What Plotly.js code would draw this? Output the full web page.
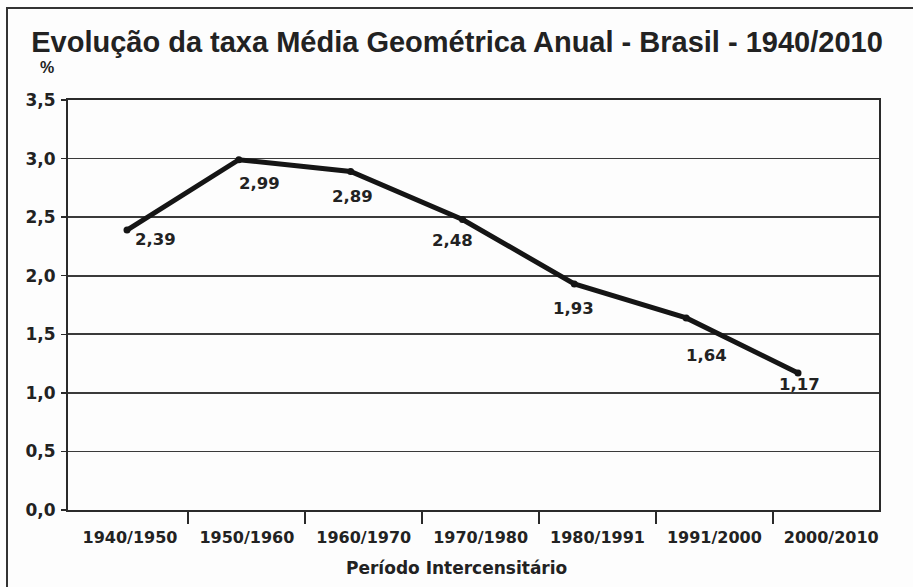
<!DOCTYPE html>
<html>
<head>
<meta charset="utf-8">
<script src="https://cdn.plot.ly/plotly-3.0.1.min.js"></script>
<style>
  html, body { margin: 0; padding: 0; background: #fdfdfd; }
  #wrap { position: relative; width: 913px; height: 587px; }
  #chart { width: 913px; height: 587px; }
  #frame { position: absolute; left: 6px; top: 7px; right: 0; bottom: 0;
           border-left: 2px solid #333; border-top: 2px solid #333; pointer-events: none; }
</style>
</head>
<body>
<div id="wrap">
  <div id="chart"></div>
  <div id="frame"></div>
</div>
<script>
// ---- data ----
const periods = ["1940/1950", "1950/1960", "1960/1970", "1970/1980", "1980/1991", "1991/2000", "2000/2010"];
const rates = [2.39, 2.99, 2.89, 2.48, 1.93, 1.64, 1.17];
const rateLabels = ["2,39", "2,99", "2,89", "2,48", "1,93", "1,64", "1,17"];
const yTickVals = [0, 0.5, 1.0, 1.5, 2.0, 2.5, 3.0, 3.5];

// ---- layout helpers (style only) ----
const W = 913, H = 587, ML = 68, MR = 34, MT = 100, MB = 77;
const pw = W - ML - MR, ph = H - MT - MB;
const px2x = px => (px - ML) / pw;
const py2y = py => (H - MB - py) / ph;

const labelDx = [28, 21, 2, -10, -1, 20, 1];
const labelDy = [9, 24, 25, 21, 25, 38, 12];
const idx = periods.map((_, i) => i);
const labelStep = 1.045, labelOff = 0.027;
const catTickVals = idx.map(i => labelOff + i * labelStep);
const boundaryVals = idx.slice(0, -1).map(i => labelOff + i * labelStep + 0.52);

const boldFont = "DejaVu Sans";
const annotations = rates.map((v, i) => ({
  x: i, y: v, xref: "x", yref: "y", text: rateLabels[i],
  showarrow: false, xanchor: "center", yanchor: "middle",
  xshift: labelDx[i], yshift: -labelDy[i],
  font: { family: boldFont, size: 16.5, color: "#222", weight: "bold" }
}));
annotations.push({
  x: px2x(47), y: py2y(68), xref: "paper", yref: "paper", text: "%", showarrow: false,
  xanchor: "center", yanchor: "middle",
  font: { family: "Liberation Sans", size: 16, color: "#222", weight: "bold" }
});
annotations.push({
  x: px2x(456), y: py2y(568), xref: "paper", yref: "paper", text: "Período Intercensitário",
  showarrow: false, xanchor: "center", yanchor: "middle",
  font: { family: boldFont, size: 17, color: "#222", weight: "bold" }
});

const trace = {
  x: idx, y: rates, type: "scatter", mode: "lines+markers",
  line: { color: "#151515", width: 5 },
  marker: { color: "#151515", size: 7 },
  hoverinfo: "skip"
};

const layout = {
  width: W, height: H,
  paper_bgcolor: "#fdfdfd", plot_bgcolor: "#fdfdfd",
  margin: { l: ML, r: MR, t: MT, b: MB },
  separators: ",.",
  showlegend: false,
  title: {
    text: "Evolução da taxa Média Geométrica Anual - Brasil - 1940/2010",
    font: { family: "Liberation Sans", size: 29, color: "#222", weight: "bold" },
    x: px2x(457), xanchor: "center", xref: "paper", y: 1 - 42 / H, yanchor: "middle"
  },
  xaxis: {
    range: [-0.5276, 6.724],
    tickmode: "array", tickvals: catTickVals, ticktext: periods,
    ticks: "", showgrid: false, zeroline: false,
    showline: true, linecolor: "#2a2a2a", linewidth: 2, mirror: true,
    tickfont: { family: boldFont, size: 16, color: "#222", weight: "bold" },
    ticklabelstandoff: 12,
    minor: { tickmode: "array", tickvals: boundaryVals, ticks: "outside", ticklen: 12, tickwidth: 2, tickcolor: "#2a2a2a", showgrid: false }
  },
  yaxis: {
    range: [0, 3.5], tickmode: "array", tickvals: yTickVals, tickformat: ".1f",
    ticks: "outside", ticklen: 5, tickwidth: 1.5, tickcolor: "#2a2a2a",
    showgrid: true, gridcolor: "#3a3a3a", gridwidth: 1.6,
    zeroline: false, showline: true, linecolor: "#2a2a2a", linewidth: 2, mirror: true,
    tickfont: { family: boldFont, size: 17, color: "#222", weight: "bold" },
    ticklabelstandoff: 2
  },
  annotations: annotations
};

Plotly.newPlot("chart", [trace], layout, { displayModeBar: false, staticPlot: true });
</script>
</body>
</html>
